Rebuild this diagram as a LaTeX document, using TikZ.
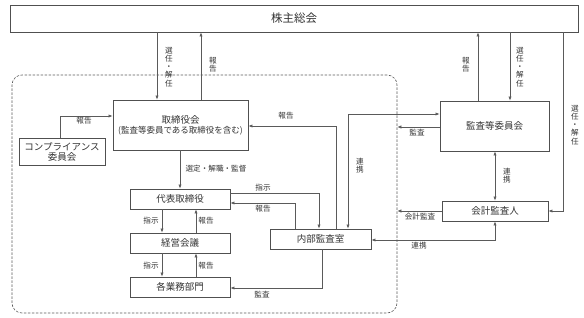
\documentclass[tikz,border=0pt]{standalone}
\usepackage{fontspec}
\setmainfont{Noto Sans CJK JP}
\usetikzlibrary{arrows.meta}
\definecolor{boxc}{HTML}{505050}
\definecolor{linec}{HTML}{5A5A5A}
\definecolor{txt}{HTML}{333333}
\begin{document}
\begin{tikzpicture}[x=1pt,y=-1pt,
  box/.style={draw=boxc, line width=0.8pt, fill=white, inner sep=0pt, font=\fontsize{9.5}{11}\selectfont, text=txt, align=center},
  conn/.style={draw=linec, line width=0.6pt},
  arr/.style={conn, -{Latex[length=4pt,width=3.2pt]}},
  arrb/.style={conn, {Latex[length=4pt,width=3.2pt]}-{Latex[length=4pt,width=3.2pt]}},
  lbl/.style={font=\fontsize{7.6}{8.2}\selectfont, text=txt, inner sep=0pt},
  vlbl/.style={lbl, align=center}]
\useasboundingbox (0,0) rectangle (584,318);

% group (dashed)
\node[draw=linec, line width=0.6pt, dash pattern=on 2.5pt off 1.5pt, rounded corners=10pt,
  minimum width=385pt, minimum height=238pt, inner sep=0pt] (grp) at (204.5,194) {};

% boxes
\node[box, minimum width=568pt, minimum height=27pt, font=\fontsize{11.5}{13}\selectfont] (sh) at (294,18.5) {株主総会};
\node[box, minimum width=135pt, minimum height=50pt] (tb) at (180.5,125) {取締役会\\[-1pt]{\fontsize{8.5}{10}\selectfont (監査等委員である取締役を含む)}};
\node[box, minimum width=86pt, minimum height=27pt, font=\fontsize{9.5}{10}\selectfont] (cp) at (62,151.5) {コンプライアンス\\委員会};
\node[box, minimum width=100pt, minimum height=20pt] (rep) at (180,199) {代表取締役};
\node[box, minimum width=100pt, minimum height=20pt] (kei) at (180,243) {経営会議};
\node[box, minimum width=100pt, minimum height=20pt] (kaku) at (180,287) {各業務部門};
\node[box, minimum width=101pt, minimum height=20pt] (nai) at (320.5,239) {内部監査室};
\node[box, minimum width=109pt, minimum height=50pt] (kan) at (494.5,126) {監査等委員会};
\node[box, minimum width=106pt, minimum height=20pt] (kai) at (495,211) {会計監査人};

% reference coordinates
\coordinate (x60) at (60,0);
\coordinate (x157) at (157,0);
\coordinate (x162) at (162,0);
\coordinate (x180) at (180,0);
\coordinate (x196) at (196,0);
\coordinate (x201) at (201,0);
\coordinate (x295) at (295,0);
\coordinate (x319) at (319,0);
\coordinate (x322) at (322,0);
\coordinate (x336) at (336,0);
\coordinate (x348) at (348,0);
\coordinate (x478) at (478,0);
\coordinate (x495) at (495,0);
\coordinate (x510) at (510,0);
\coordinate (x563) at (563,0);
\coordinate (y114) at (0,114);
\coordinate (y116) at (0,116);
\coordinate (y126) at (0,126);
\coordinate (y127) at (0,127);
\coordinate (y193) at (0,193);
\coordinate (y203) at (0,203);
\coordinate (y240) at (0,240);
\coordinate (y288) at (0,288);

% connectors
\draw[arr] (sh.south -| x157) -- (tb.north -| x157);
\draw[arr] (tb.north -| x201) -- (sh.south -| x201);
\draw[arr] (kan.north -| x478) -- (sh.south -| x478);
\draw[arr] (sh.south -| x510) -- (kan.north -| x510);
\draw[arr] (sh.south -| x563) |- (kai.east);
\draw[arr] (cp.north -| x60) |- (tb.west |- y116);
\draw[arr] (tb.south -| x180) -- (rep.north -| x180);
\draw[arr] (rep.east |- y193) -| (nai.north -| x319);
\draw[arr] (nai.north -| x295) |- (rep.east |- y203);
\draw[arr] (nai.north -| x336) |- (tb.east |- y126);
\draw[arrb] (nai.north -| x348) |- (kan.west |- y114);
\draw[arr] (kan.west |- y127) -- (grp.east |- y127);
\draw[arrb] (kan.south -| x495) -- (kai.north -| x495);
\draw[arr] (kai.west) -- (grp.east |- kai.west);
\draw[arrb] (nai.east |- y240) -| (kai.south -| x495);
\draw[arr] (nai.south -| x322) |- (kaku.east |- y288);
\draw[arr] (rep.south -| x162) -- (kei.north -| x162);
\draw[arr] (kei.north -| x196) -- (rep.south -| x196);
\draw[arr] (kei.south -| x162) -- (kaku.north -| x162);
\draw[arr] (kaku.north -| x196) -- (kei.south -| x196);

% labels
\node[vlbl] (l1) at (169,67) {選\\任\\・\\解\\任};
\node[vlbl] (l2) at (213,65) {報\\告};
\node[vlbl] (l3) at (466,65) {報\\告};
\node[vlbl] (l4) at (520,67) {選\\任\\・\\解\\任};
\node[vlbl] (l5) at (575,125) {選\\任\\・\\解\\任};
\node[vlbl] (l6) at (360,166) {連\\携};
\node[vlbl] (l7) at (507,176) {連\\携};
\node[lbl] (l8) at (84,121) {報告};
\node[lbl] (l9) at (286,116) {報告};
\node[lbl] (l10) at (417,133) {監査};
\node[lbl] (l11) at (420,217) {会計監査};
\node[lbl] (l12) at (419,246) {連携};
\node[lbl] (l13) at (216,169) {選定・解職・監督};
\node[lbl] (l14) at (263,188) {指示};
\node[lbl] (l15) at (263,209) {報告};
\node[lbl] (l16) at (151,221) {指示};
\node[lbl] (l17) at (206,221) {報告};
\node[lbl] (l18) at (151,266) {指示};
\node[lbl] (l19) at (206,266) {報告};
\node[lbl] (l20) at (262,295) {監査};
\end{tikzpicture}
\end{document}
